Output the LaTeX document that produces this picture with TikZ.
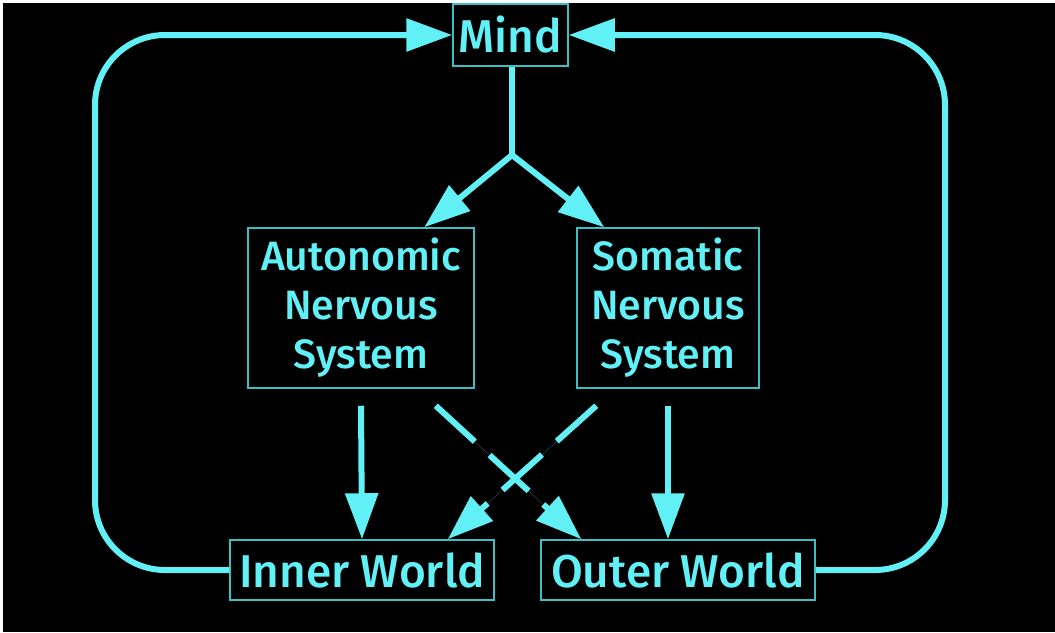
\documentclass[tikz,border=0pt]{standalone}
\usepackage{fontspec}
\setmainfont{Fira Sans}[BoldFont={Fira Sans Medium}]
\usetikzlibrary{arrows.meta}
\definecolor{cy}{HTML}{60F0F5}
\definecolor{bx}{HTML}{3CBFC2}
\begin{document}
\begin{tikzpicture}[x=1pt,y=-1pt,
  box/.style={draw=bx, line width=1.5pt, inner sep=0pt, text=cy, align=center,
    font=\bfseries\fontsize{41}{49}\selectfont},
  bigbox/.style={box, font=\bfseries\fontsize{46}{50}\selectfont},
  conn/.style={draw=cy, line width=6pt},
  tip/.style={-{Triangle[length=46pt,width=32pt]}},
  arr/.style={conn, tip, fill=cy},
  dsh/.style={arr, dash pattern=on 53pt off 20pt}]
\useasboundingbox (0,0) rectangle (1055,632);
\fill[black] (0,0) rectangle (1055,632);
\fill[white] (0,0) rectangle (1055,3);
\fill[white] (0,0) rectangle (3,632);

\node[bigbox, minimum width=115pt, minimum height=62pt] (mind) at (510.5,35) {Mind};
\node[box, minimum width=226pt, minimum height=160pt] (auto) at (361,308) {Autonomic\\Nervous\\System};
\node[box, minimum width=182pt, minimum height=160pt] (soma) at (668,308) {Somatic\\Nervous\\System};
\node[bigbox, minimum width=264pt, minimum height=60pt] (inner) at (362,570) {Inner World};
\node[bigbox, minimum width=274pt, minimum height=60pt] (outer) at (678,570) {Outer World};

\coordinate (split) at (512,155);
\coordinate (lcorner1) at (95,570);
\coordinate (lcorner2) at (95,35);
\coordinate (rcorner1) at (945,570);
\coordinate (rcorner2) at (945,35);

% feedback loops
\draw[conn, tip, rounded corners=70pt] (inner.west) -- (lcorner1) -- (lcorner2) -- (mind.west);
\draw[conn, tip, rounded corners=70pt] (outer.east) -- (rcorner1) -- (rcorner2) -- (mind.east);

% mind to systems
\draw[conn] (mind.south -| split) -- (split);
\draw[arr] (split) -- ([xshift=177pt]auto.north west);
\draw[arr] (split) -- ([xshift=28pt]soma.north west);

% systems to worlds
\draw[arr] ([yshift=-17pt]auto.south) -- (inner.north);
\draw[arr] ([yshift=-17pt]soma.south) -- (soma.south |- inner.north);
\draw[dsh] ([xshift=-39pt,yshift=-17pt]auto.south east) -- ([xshift=41pt]outer.north west);
\draw[dsh] ([xshift=20pt,yshift=-17pt]soma.south west) -- ([xshift=-47pt]inner.north east);
\end{tikzpicture}
\end{document}
